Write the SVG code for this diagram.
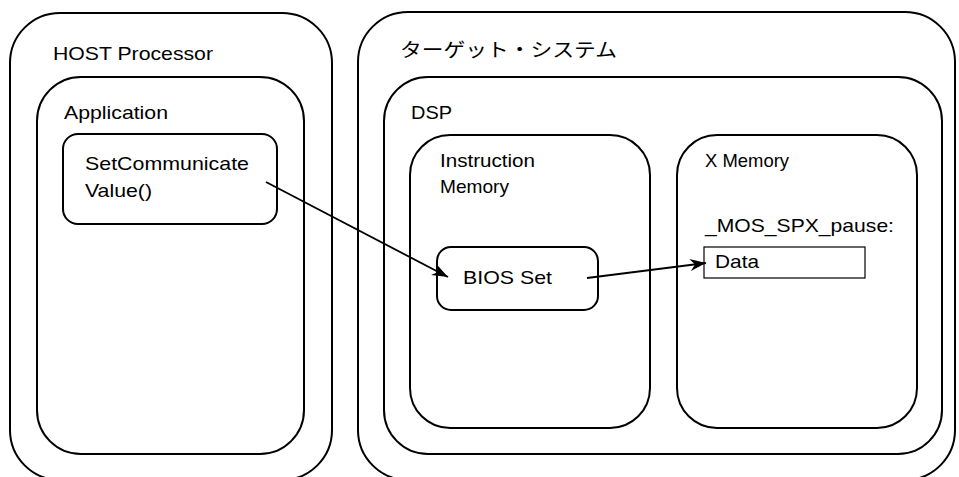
<svg xmlns="http://www.w3.org/2000/svg" width="959" height="477" viewBox="0 0 959 477">
<defs>
<style>
.box{fill:none;stroke:#000;stroke-width:2}
.thin{fill:#fff;stroke:#000;stroke-width:1.2}
.t{font-family:"Liberation Sans",Arial,sans-serif;font-size:18.5px;fill:#000}
.j{font-family:"Liberation Sans","Noto Sans CJK JP",sans-serif;font-size:19px;fill:#000}
.c{fill:none;stroke:#000;stroke-width:1.8}
</style>
<marker id="ah" markerUnits="userSpaceOnUse" markerWidth="18" markerHeight="14" refX="16" refY="6" orient="auto">
<path d="M0,0 L16,6 L0,12 L5,6 z" fill="#000"/>
</marker>
</defs>
<rect width="959" height="477" fill="#fff"/>
<g id="host">
<rect class="box" x="10" y="13" width="322" height="467" rx="50"/>
<text class="t" x="53" y="60" textLength="160" lengthAdjust="spacingAndGlyphs">HOST Processor</text>
</g>
<g id="application">
<rect class="box" x="37" y="77" width="267" height="377" rx="44"/>
<text class="t" x="64" y="119" textLength="104" lengthAdjust="spacingAndGlyphs">Application</text>
</g>
<g id="setcomm">
<rect class="box" x="63" y="134" width="214" height="90" rx="15"/>
<text class="t" x="85" y="170" textLength="164" lengthAdjust="spacingAndGlyphs">SetCommunicate</text>
<text class="t" x="85" y="197" textLength="67" lengthAdjust="spacingAndGlyphs">Value()</text>
</g>
<g id="target">
<rect class="box" x="358" y="12" width="597" height="468" rx="50"/>
<text class="j" x="400" y="57" textLength="217" lengthAdjust="spacingAndGlyphs">ターゲット・システム</text>
</g>
<g id="dsp">
<rect class="box" x="384" y="77" width="558" height="377" rx="44"/>
<text class="t" x="411" y="119" textLength="41" lengthAdjust="spacingAndGlyphs">DSP</text>
</g>
<g id="imem">
<rect class="box" x="410" y="135" width="240" height="293" rx="40"/>
<text class="t" x="440" y="167" textLength="95" lengthAdjust="spacingAndGlyphs">Instruction</text>
<text class="t" x="440" y="193" textLength="69" lengthAdjust="spacingAndGlyphs">Memory</text>
</g>
<g id="xmem">
<rect class="box" x="677" y="135" width="240" height="293" rx="40"/>
<text class="t" x="705" y="167" textLength="84" lengthAdjust="spacingAndGlyphs">X Memory</text>
<text class="t" x="705" y="232" textLength="189" lengthAdjust="spacingAndGlyphs">_MOS_SPX_pause:</text>
</g>
<g id="bios">
<rect class="box" x="437" y="247" width="161" height="63" rx="14"/>
<text class="t" x="463" y="284" textLength="89" lengthAdjust="spacingAndGlyphs">BIOS Set</text>
</g>
<g id="data">
<rect class="thin" x="704" y="247" width="161" height="31"/>
<text class="t" x="715" y="268" textLength="44" lengthAdjust="spacingAndGlyphs">Data</text>
</g>
<g id="connectors">
<line class="c" x1="266" y1="182" x2="448" y2="277" marker-end="url(#ah)"/>
<line class="c" x1="587" y1="278" x2="706" y2="263" marker-end="url(#ah)"/>
</g>
</svg>
